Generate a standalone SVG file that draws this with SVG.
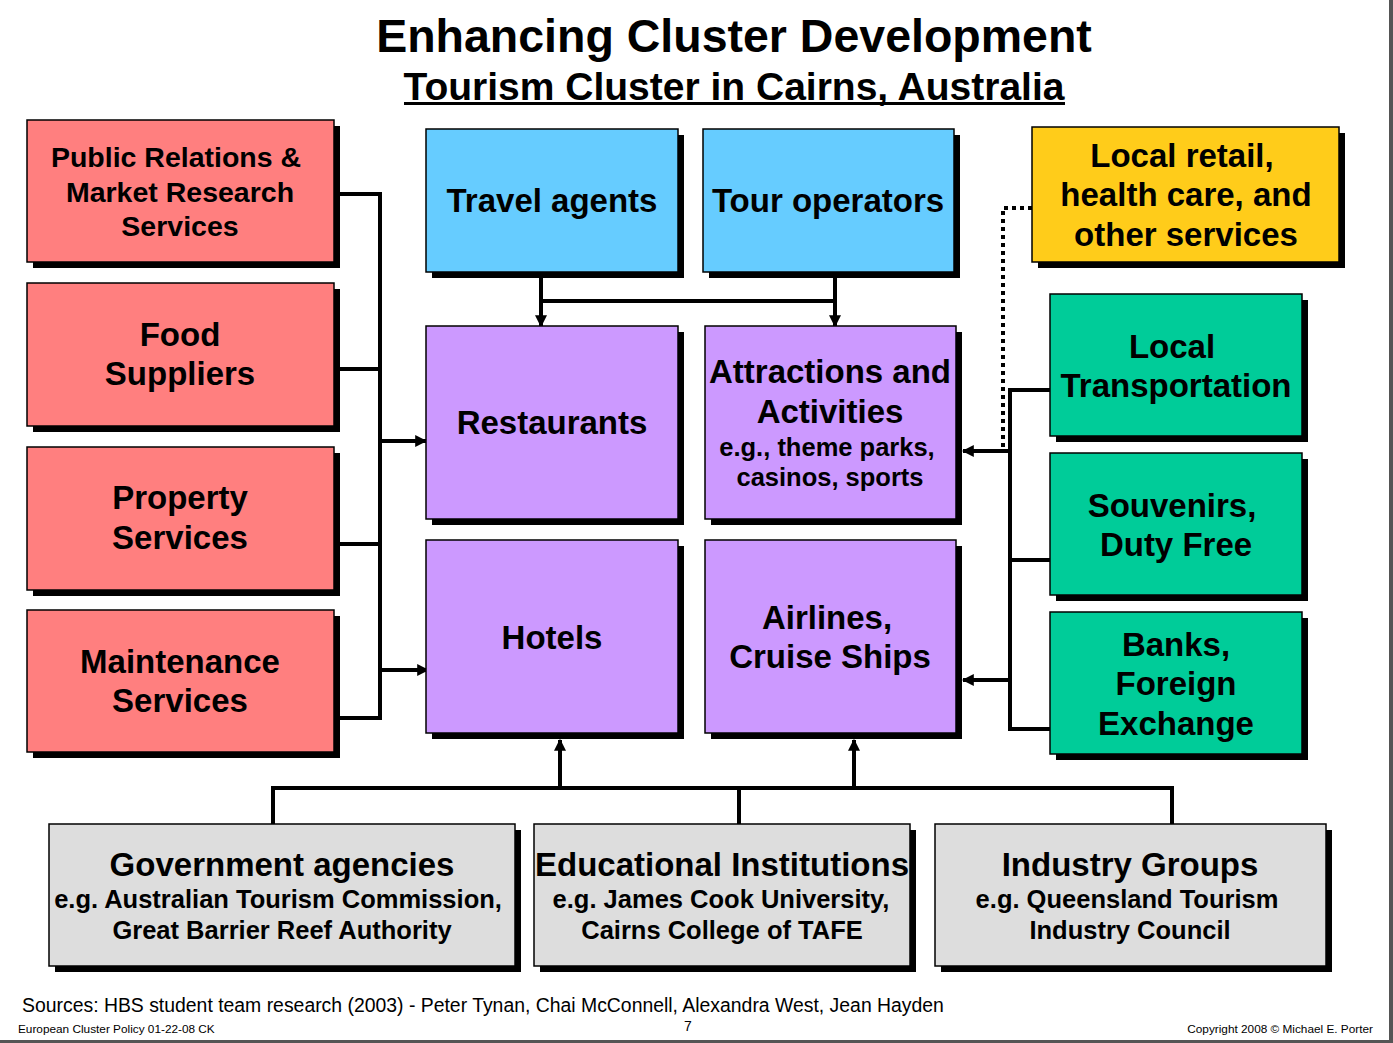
<svg xmlns="http://www.w3.org/2000/svg" width="1393" height="1043" viewBox="0 0 1393 1043">
<defs>
<style>
.t{font-family:"Liberation Sans",Arial,sans-serif;font-weight:bold;fill:#000;text-anchor:middle}
.b{font-size:33px}
.s{font-size:25.5px}
.p{font-size:28.5px}
.box{stroke:#000;stroke-width:1.5}
.sh{fill:#000}
.ln{stroke:#000;stroke-width:4;fill:none}
.red{fill:#FF7F7F}.blue{fill:#66CCFF}.pur{fill:#CC99FF}.grn{fill:#00CC99}.gry{fill:#DDDDDD}.yel{fill:#FFCC1A}
</style>
<marker id="ar" viewBox="0 0 10 10" refX="9" refY="5" markerWidth="3" markerHeight="3" orient="auto" markerUnits="strokeWidth">
<path d="M0,0 L10,5 L0,10 z" fill="#000"/>
</marker>
</defs>
<rect width="1393" height="1043" fill="#fff"/>
<rect x="1389" y="0" width="4" height="1043" fill="#555"/>
<rect x="0" y="1040" width="1393" height="3" fill="#555"/>

<text class="t" x="734" y="52" font-size="46.5">Enhancing Cluster Development</text>
<text class="t" x="734" y="100" font-size="39">Tourism Cluster in Cairns, Australia</text>
<rect x="404" y="102" width="661" height="3" fill="#000"/>

<g id="connectors">
<polyline class="ln" points="340,194 380,194 380,718 336,718"/>
<line class="ln" x1="333" y1="369" x2="380" y2="369"/>
<line class="ln" x1="333" y1="544" x2="380" y2="544"/>
<line class="ln" x1="380" y1="441" x2="426" y2="441" marker-end="url(#ar)"/>
<line class="ln" x1="380" y1="670" x2="428" y2="670" marker-end="url(#ar)"/>
<line class="ln" x1="541" y1="276" x2="541" y2="326" marker-end="url(#ar)"/>
<line class="ln" x1="835" y1="276" x2="835" y2="326" marker-end="url(#ar)"/>
<line class="ln" x1="541" y1="301" x2="835" y2="301"/>
<polyline class="ln" points="1050,390 1010,390 1010,729 1050,729"/>
<line class="ln" x1="1010" y1="560" x2="1050" y2="560"/>
<line class="ln" x1="1010" y1="451" x2="963" y2="451" marker-end="url(#ar)"/>
<line class="ln" x1="1010" y1="680" x2="963" y2="680" marker-end="url(#ar)"/>
<polyline points="1032,208 1003,208 1003,451" fill="none" stroke="#000" stroke-width="4" stroke-dasharray="4,4"/>
<polyline class="ln" points="273,824 273,788 1172,788 1172,824"/>
<line class="ln" x1="739" y1="788" x2="739" y2="824"/>
<line class="ln" x1="560" y1="788" x2="560" y2="740" marker-end="url(#ar)"/>
<line class="ln" x1="854" y1="788" x2="854" y2="740" marker-end="url(#ar)"/>
</g>

<g id="pr"><rect class="sh" x="33" y="126" width="307" height="142"/><rect class="box red" x="27" y="120" width="307" height="142"/>
<text class="t p"><tspan x="176" y="167">Public Relations &amp;</tspan><tspan x="180" y="202">Market Research</tspan><tspan x="180" y="236">Services</tspan></text></g>
<g id="food"><rect class="sh" x="33" y="289" width="307" height="143"/><rect class="box red" x="27" y="283" width="307" height="143"/>
<text class="t b"><tspan x="180" y="346">Food</tspan><tspan x="180" y="385">Suppliers</tspan></text></g>
<g id="property"><rect class="sh" x="33" y="453" width="307" height="143"/><rect class="box red" x="27" y="447" width="307" height="143"/>
<text class="t b"><tspan x="180" y="509">Property</tspan><tspan x="180" y="549">Services</tspan></text></g>
<g id="maintenance"><rect class="sh" x="33" y="616" width="307" height="142"/><rect class="box red" x="27" y="610" width="307" height="142"/>
<text class="t b"><tspan x="180" y="673">Maintenance</tspan><tspan x="180" y="712">Services</tspan></text></g>

<g id="travel"><rect class="sh" x="432" y="135" width="252" height="143"/><rect class="box blue" x="426" y="129" width="252" height="143"/>
<text class="t b" x="552" y="212">Travel agents</text></g>
<g id="tour"><rect class="sh" x="709" y="135" width="251" height="143"/><rect class="box blue" x="703" y="129" width="251" height="143"/>
<text class="t b" x="828" y="212">Tour operators</text></g>

<g id="restaurants"><rect class="sh" x="432" y="332" width="252" height="193"/><rect class="box pur" x="426" y="326" width="252" height="193"/>
<text class="t b" x="552" y="434">Restaurants</text></g>
<g id="attractions"><rect class="sh" x="711" y="332" width="251" height="193"/><rect class="box pur" x="705" y="326" width="251" height="193"/>
<text class="t"><tspan class="b" x="830" y="383">Attractions and</tspan><tspan class="b" x="830" y="423">Activities</tspan><tspan class="s" x="827" y="456">e.g., theme parks,</tspan><tspan class="s" x="830" y="486">casinos, sports</tspan></text></g>
<g id="hotels"><rect class="sh" x="432" y="546" width="252" height="193"/><rect class="box pur" x="426" y="540" width="252" height="193"/>
<text class="t b" x="552" y="649">Hotels</text></g>
<g id="airlines"><rect class="sh" x="711" y="546" width="251" height="193"/><rect class="box pur" x="705" y="540" width="251" height="193"/>
<text class="t b"><tspan x="827" y="629">Airlines,</tspan><tspan x="830" y="668">Cruise Ships</tspan></text></g>

<g id="retail"><rect class="sh" x="1038" y="133" width="307" height="135"/><rect class="box yel" x="1032" y="127" width="307" height="135"/>
<text class="t b"><tspan x="1182" y="167">Local retail,</tspan><tspan x="1186" y="206">health care, and</tspan><tspan x="1186" y="246">other services</tspan></text></g>
<g id="transport"><rect class="sh" x="1056" y="300" width="252" height="142"/><rect class="box grn" x="1050" y="294" width="252" height="142"/>
<text class="t b"><tspan x="1172" y="358">Local</tspan><tspan x="1176" y="397">Transportation</tspan></text></g>
<g id="souvenirs"><rect class="sh" x="1056" y="459" width="252" height="142"/><rect class="box grn" x="1050" y="453" width="252" height="142"/>
<text class="t b"><tspan x="1172" y="517">Souvenirs,</tspan><tspan x="1176" y="556">Duty Free</tspan></text></g>
<g id="banks"><rect class="sh" x="1056" y="618" width="252" height="142"/><rect class="box grn" x="1050" y="612" width="252" height="142"/>
<text class="t b"><tspan x="1176" y="656">Banks,</tspan><tspan x="1176" y="695">Foreign</tspan><tspan x="1176" y="735">Exchange</tspan></text></g>

<g id="government"><rect class="sh" x="55" y="830" width="466" height="142"/><rect class="box gry" x="49" y="824" width="466" height="142"/>
<text class="t"><tspan class="b" x="282" y="876">Government agencies</tspan><tspan class="s" x="278" y="908">e.g. Australian Tourism Commission,</tspan><tspan class="s" x="282" y="939">Great Barrier Reef Authority</tspan></text></g>
<g id="education"><rect class="sh" x="540" y="830" width="376" height="142"/><rect class="box gry" x="534" y="824" width="376" height="142"/>
<text class="t"><tspan class="b" x="722" y="876">Educational Institutions</tspan><tspan class="s" x="721" y="908">e.g. James Cook University,</tspan><tspan class="s" x="722" y="939">Cairns College of TAFE</tspan></text></g>
<g id="industry"><rect class="sh" x="941" y="830" width="391" height="142"/><rect class="box gry" x="935" y="824" width="391" height="142"/>
<text class="t"><tspan class="b" x="1130" y="876">Industry Groups</tspan><tspan class="s" x="1127" y="908">e.g. Queensland Tourism</tspan><tspan class="s" x="1130" y="939">Industry Council</tspan></text></g>

<text x="22" y="1012" font-family="Liberation Sans,Arial,sans-serif" font-size="19.4">Sources: HBS student team research (2003) - Peter Tynan, Chai McConnell, Alexandra West, Jean Hayden</text>
<text x="18" y="1033" font-family="Liberation Sans,Arial,sans-serif" font-size="11.8">European Cluster Policy 01-22-08 CK</text>
<text x="688" y="1031" font-family="Liberation Sans,Arial,sans-serif" font-size="14" text-anchor="middle">7</text>
<text x="1373" y="1033" font-family="Liberation Sans,Arial,sans-serif" font-size="11.8" text-anchor="end">Copyright 2008 © Michael E. Porter</text>
</svg>
